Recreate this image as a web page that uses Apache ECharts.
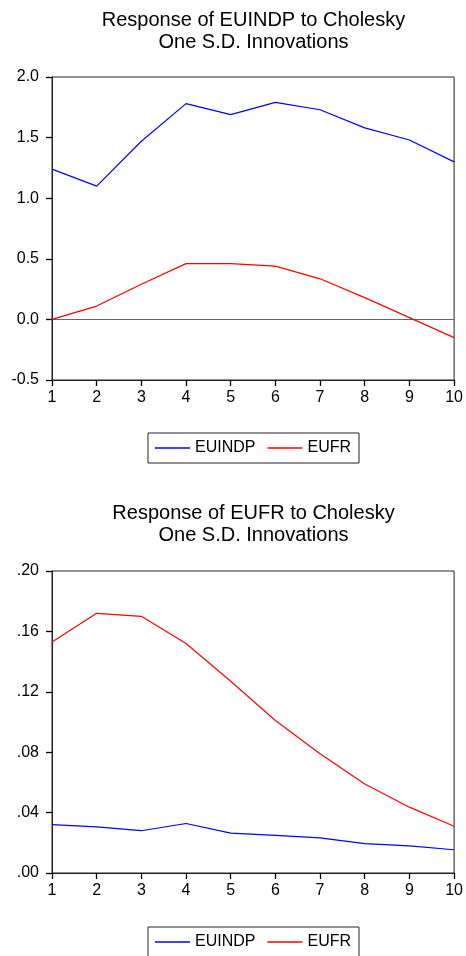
<!DOCTYPE html>
<html>
<head>
<meta charset="utf-8">
<script src="https://cdn.jsdelivr.net/npm/echarts@6/dist/echarts.min.js"></script>
<style>
html,body{margin:0;padding:0;background:#fff;}
#chart{width:466px;height:956px;}
</style>
</head>
<body>
<div id="chart"></div>
<script>
const periods = ['1','2','3','4','5','6','7','8','9','10'];
const seriesNames = ['EUINDP', 'EUFR'];

// Response of EUINDP
const topEUINDP = [1.24, 1.10, 1.47, 1.78, 1.69, 1.79, 1.73, 1.58, 1.48, 1.30];
const topEUFR   = [0.00, 0.11, 0.29, 0.46, 0.46, 0.44, 0.335, 0.18, 0.015, -0.15];

// Response of EUFR
const botEUINDP = [0.032, 0.0305, 0.028, 0.0328, 0.0264, 0.0249, 0.0233, 0.0194, 0.0179, 0.0154];
const botEUFR   = [0.153, 0.172, 0.170, 0.152, 0.127, 0.101, 0.079, 0.059, 0.0436, 0.031];

const topTitle = 'Response of EUINDP to Cholesky\nOne S.D. Innovations';
const botTitle = 'Response of EUFR to Cholesky\nOne S.D. Innovations';

const FONT = '"Liberation Sans", Arial, sans-serif';
const BLUE = '#0000ff';
const RED = '#ff0000';

const chart = echarts.init(document.getElementById('chart'), null, {renderer: 'canvas'});

function xAx(gi) {
  return {
    type: 'category', gridIndex: gi, data: periods, boundaryGap: false,
    axisLine: {show: true, onZero: false, lineStyle: {color: '#222', width: 1}},
    axisTick: {show: true, inside: false, length: 6, interval: 0, alignWithLabel: true, lineStyle: {color: '#000', width: 1.3}},
    axisLabel: {color: '#000', fontSize: 16, fontFamily: FONT, margin: 10, showMaxLabel: true, showMinLabel: true, interval: 0},
    splitLine: {show: false}
  };
}
function yAx(gi, min, max, interval, fmt) {
  return {
    type: 'value', gridIndex: gi, min: min, max: max, interval: interval,
    axisLine: {show: true, onZero: false, lineStyle: {color: '#222', width: 1}},
    axisTick: {show: true, inside: false, length: 6, lineStyle: {color: '#000', width: 1.3}},
    axisLabel: {color: '#000', fontSize: 16, fontFamily: FONT, margin: 13, formatter: fmt},
    splitLine: {show: false}
  };
}
function lineSeries(name, data, color, xi, extra) {
  return Object.assign({
    name: name, type: 'line', xAxisIndex: xi, yAxisIndex: xi, data: data,
    symbol: 'none', showSymbol: false, smooth: false,
    lineStyle: {color: color, width: 1.2}, itemStyle: {color: color},
    emphasis: {disabled: true}, silent: true
  }, extra || {});
}
function legendAt(top) {
  return {
    data: [
      {name: seriesNames[0], icon: 'rect', itemStyle: {color: BLUE}},
      {name: seriesNames[1], icon: 'rect', itemStyle: {color: RED}}
    ],
    left: 148, top: top, orient: 'horizontal',
    padding: [6, 8, 6, 7], borderColor: '#222', borderWidth: 1,
    itemWidth: 35, itemHeight: 1.3, itemGap: 12,
    textStyle: {color: '#000', fontSize: 16, fontFamily: FONT, lineHeight: 18},
    selectedMode: false
  };
}

const option = {
  animation: false,
  backgroundColor: '#fff',
  title: [
    {text: topTitle, left: 253.5, top: 9, textAlign: 'center', padding: 0,
     textStyle: {color: '#000', fontSize: 20, fontWeight: 'normal', fontFamily: FONT, lineHeight: 22.5}},
    {text: botTitle, left: 253.5, top: 502, textAlign: 'center', padding: 0,
     textStyle: {color: '#000', fontSize: 20, fontWeight: 'normal', fontFamily: FONT, lineHeight: 22.5}}
  ],
  legend: [legendAt(433), legendAt(927)],
  grid: [
    {left: 52, top: 77, width: 403, height: 303, show: true, borderColor: '#222', borderWidth: 1, backgroundColor: 'transparent', containLabel: false},
    {left: 52, top: 571, width: 403, height: 302, show: true, borderColor: '#222', borderWidth: 1, backgroundColor: 'transparent', containLabel: false}
  ],
  xAxis: [xAx(0), xAx(1)],
  yAxis: [
    yAx(0, -0.5, 2.0, 0.5, v => v.toFixed(1)),
    yAx(1, 0, 0.2, 0.04, v => v.toFixed(2).replace(/^0/, ''))
  ],
  series: [
    lineSeries('EUINDP', topEUINDP, BLUE, 0, {
      markLine: {silent: true, symbol: ['none', 'none'], label: {show: false},
        lineStyle: {color: '#666', width: 1, type: 'solid'}, data: [{yAxis: 0}], z: 1}
    }),
    lineSeries('EUFR', topEUFR, RED, 0),
    lineSeries('EUINDP', botEUINDP, BLUE, 1),
    lineSeries('EUFR', botEUFR, RED, 1)
  ]
};
chart.setOption(option);
</script>
</body>
</html>
